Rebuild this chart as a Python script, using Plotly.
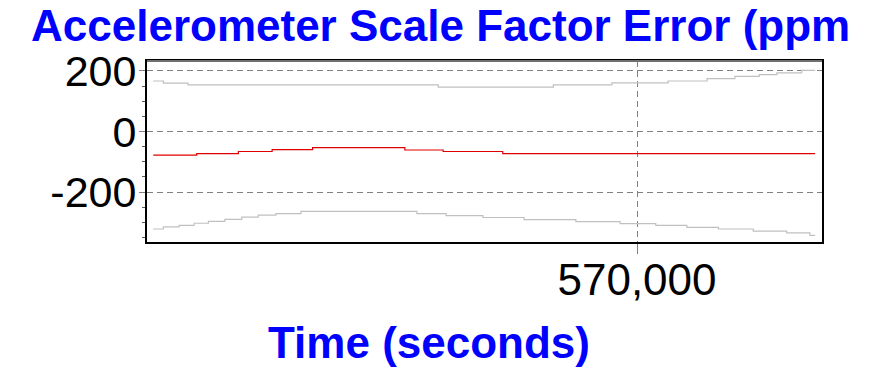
import plotly.graph_objects as go

# upper / lower bounds (grey) and estimate (red), stepwise, time in seconds
t_upper = [441000, 443700, 450300, 517000, 547700, 563300, 578300, 588700,
           596100, 602600, 607300, 613900, 617500]
upper = [167, 160, 154, 147, 154, 161, 167, 175, 182, 188, 194, 202, 202]

t_lower = [441000, 443700, 447900, 451900, 455700, 460100, 464600, 469000,
           473700, 480400, 511300, 519100, 528900, 539900, 553700, 565500,
           575000, 583300, 591700, 601000, 609900, 616100, 617500]
lower = [-322, -315, -310, -303, -297, -290, -283, -276, -271, -264, -271,
         -278, -284, -291, -298, -304, -310, -317, -322, -329, -335, -343, -343]

t_mean = [441000, 452600, 463700, 472700, 483500, 508100, 518300, 534200, 617500]
mean = [-78, -73, -66, -60, -53, -61, -66, -73, -73]

y_ticks = [200, 0, -200]
y_ticktext = ["200", "0", "-200"]
x_ticks = [570000]
x_ticktext = ["570,000"]

FONT = "Liberation Sans, Arial, sans-serif"

# page body has an 8px margin, so the figure is 8px smaller and shifted
W, H = 865, 359

fig = go.Figure()
fig.add_trace(go.Scatter(x=t_upper, y=upper, mode="lines", line_shape="hv",
                         line=dict(color="#c0c0c0", width=1.2)))
fig.add_trace(go.Scatter(x=t_lower, y=lower, mode="lines", line_shape="hv",
                         line=dict(color="#c0c0c0", width=1.2)))
fig.add_trace(go.Scatter(x=t_mean, y=mean, mode="lines", line_shape="hv",
                         line=dict(color="#e00000", width=1.2)))

fig.update_layout(
    width=W, height=H,
    margin=dict(l=139, r=51, t=53, b=125),
    paper_bgcolor="white", plot_bgcolor="white",
    showlegend=False,
    title=dict(text="Accelerometer Scale Factor Error (ppm",
               x=23 / W, xanchor="left", xref="container",
               y=1 - 2 / H, yanchor="top", yref="container",
               font=dict(family=FONT, size=44, color="#0000ff", weight="bold")),
)

fig.update_xaxes(
    range=[439333, 619333],
    tickvals=x_ticks, ticktext=x_ticktext,
    tickfont=dict(family=FONT, size=44, color="black"),
    ticks="outside", ticklen=10, tickcolor="#808080", tickwidth=1,
    ticklabelstandoff=-12,
    showgrid=True, gridcolor="#808080", griddash="6px,4px", gridwidth=1,
    showline=True, linecolor="black", linewidth=2, mirror=True,
    zeroline=False,
)
fig.update_yaxes(
    range=[-365, 233],
    tickvals=y_ticks, ticktext=y_ticktext,
    tickfont=dict(family=FONT, size=43, color="black"),
    ticks="outside", ticklen=6, tickcolor="#808080", tickwidth=1,
    ticklabelstandoff=-6,
    minor=dict(dtick=50, ticks="outside", ticklen=3, tickcolor="#606060", showgrid=False),
    showgrid=True, gridcolor="#808080", griddash="6px,4px", gridwidth=1,
    showline=True, linecolor="black", linewidth=2, mirror=True,
    zeroline=False,
)

# grey top edge of the frame
fig.add_shape(type="line", xref="paper", yref="paper", x0=0, x1=1, y0=1, y1=1,
              line=dict(color="#707070", width=2), layer="above")

fig.add_annotation(text="<b>Time (seconds)</b>", xref="paper", yref="paper",
                   x=(420.5 - 139) / 675, y=(234 - 334) / 181,
                   xanchor="center", yanchor="middle", showarrow=False,
                   font=dict(family=FONT, size=44, color="#0000ff"))

fig.write_html("out.html")
